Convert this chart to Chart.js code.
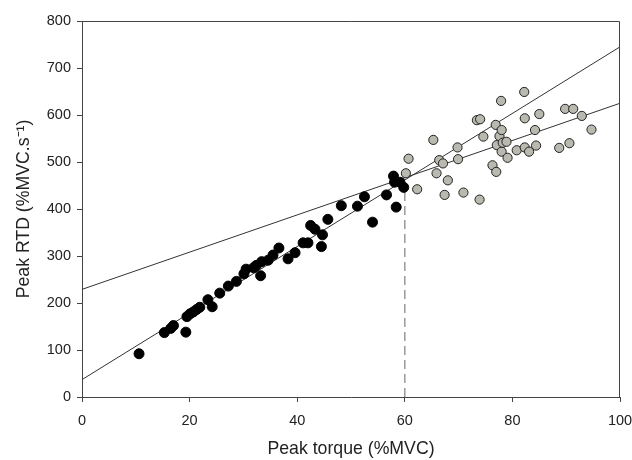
<!DOCTYPE html>
<html lang="en">
<head>
    <meta charset="UTF-8">
    <title>Peak RTD vs Peak torque</title>
    <script src="https://cdn.jsdelivr.net/npm/chart.js"></script>
    <style>
        body { margin: 0; background: #fff; }
        .wrapper { width: 632px; height: 460px; }
    </style>
</head>
<body>
    <div class="wrapper">
        <canvas id="rtdChart"></canvas>
    </div>

    <script>
        // black points (below 60 %MVC)
        const blackX = [10.6, 15.3, 16.5, 17, 19.3, 19.5, 20.1, 20.7, 21.3, 21.9, 23.4, 24.2, 25.6, 27.2, 28.7,
            30.1, 30.5, 31.9, 32.4, 33.2, 33.4, 34.6, 35.5, 36.6, 38.3, 39.6, 41.1, 42, 42.5, 43.3, 44.5, 44.7,
            45.7, 48.2, 51.2, 52.5, 54, 56.6, 57.9, 58.1, 58.4, 59.1, 59.8];
        const blackY = [92, 137, 146, 152, 138, 171, 177, 181, 186, 191, 207, 192, 221, 236, 246,
            262, 272, 275, 280, 258, 288, 291, 302, 317, 294, 307, 328, 328, 365, 357, 320, 345,
            378, 407, 406, 426, 372, 430, 470, 457, 404, 457, 446];

        // grey points (above 60 %MVC)
        const greyX = [60.2, 60.7, 62.3, 65.3, 65.9, 66.4, 67.1, 67.4, 68, 69.8, 69.9, 70.9, 73.4, 74, 73.9,
            74.6, 76.3, 76.9, 77, 77.1, 77.6, 77.9, 78, 78, 78.2, 78.9, 79.1, 80.8, 82.2, 82.3, 82.3, 83.1,
            84.2, 84.4, 85, 88.7, 89.8, 91.3, 90.6, 92.9, 94.7];
        const greyY = [476, 507, 442, 547, 476, 504, 497, 430, 461, 531, 506, 435, 589, 591, 420,
            554, 493, 579, 479, 536, 555, 630, 568, 522, 541, 543, 509, 525, 649, 593, 531, 522,
            568, 535, 602, 530, 613, 613, 540, 598, 569];

        // regression lines and the 60 %MVC marker
        const fitX = [0, 100];
        const fitSteepY = [37, 745];
        const fitFlatY = [229, 625];
        const markerX = [60, 60];
        const markerY = [0, 440];

        const xTicks = [0, 20, 40, 60, 80, 100];
        const yTicks = [0, 100, 200, 300, 400, 500, 600, 700, 800];

        const toPoints = (xs, ys) => xs.map((x, i) => ({ x: x, y: ys[i] }));

        // top and right edges of the box
        const frame = {
            id: 'frame',
            afterDraw(chart) {
                const { ctx, chartArea: a } = chart;
                ctx.save();
                ctx.strokeStyle = '#444';
                ctx.lineWidth = 1;
                ctx.beginPath();
                ctx.moveTo(a.left, a.top + 0.5);
                ctx.lineTo(a.right - 0.5, a.top + 0.5);
                ctx.lineTo(a.right - 0.5, a.bottom);
                ctx.stroke();
                ctx.restore();
            }
        };

        const family = '"Liberation Sans", Arial, sans-serif';
        const tickFont = { family: family, size: 14.5 };
        const titleFont = { family: family, size: 17.7 };

        const ctx = document.getElementById('rtdChart').getContext('2d');
        new Chart(ctx, {
            type: 'scatter',
            data: {
                datasets: [
                    {
                        data: toPoints(blackX, blackY),
                        backgroundColor: '#000',
                        borderColor: '#000',
                        borderWidth: 1,
                        pointRadius: 5,
                        order: 0
                    },
                    {
                        data: toPoints(greyX, greyY),
                        backgroundColor: '#b9b9b0',
                        borderColor: '#222',
                        borderWidth: 1,
                        pointRadius: 4.6,
                        order: 1
                    },
                    {
                        data: toPoints(fitX, fitSteepY),
                        showLine: true,
                        borderColor: '#333',
                        borderWidth: 1,
                        pointRadius: 0,
                        order: 2
                    },
                    {
                        data: toPoints(fitX, fitFlatY),
                        showLine: true,
                        borderColor: '#333',
                        borderWidth: 1,
                        pointRadius: 0,
                        order: 3
                    },
                    {
                        data: toPoints(markerX, markerY),
                        showLine: true,
                        borderColor: '#999',
                        borderWidth: 1.5,
                        borderDash: [9, 5],
                        pointRadius: 0,
                        order: 4
                    }
                ]
            },
            options: {
                responsive: true,
                maintainAspectRatio: false,
                animation: false,
                layout: { padding: { left: 0, top: 21, right: 12, bottom: 0 } },
                scales: {
                    x: {
                        type: 'linear',
                        min: 0,
                        max: 100,
                        afterBuildTicks: scale => { scale.ticks = xTicks.map(v => ({ value: v })); },
                        afterFit: scale => {
                            scale.height = 63;
                            scale.paddingLeft = 0;
                            scale.paddingRight = 0;
                        },
                        grid: { drawOnChartArea: false, color: '#444', tickLength: 5 },
                        border: { color: '#444' },
                        ticks: { color: '#222', font: tickFont, padding: 10, maxRotation: 0 },
                        title: {
                            display: true,
                            text: 'Peak torque (%MVC)',
                            color: '#222',
                            font: titleFont,
                            padding: { top: 0, bottom: 0 }
                        }
                    },
                    y: {
                        type: 'linear',
                        min: 0,
                        max: 800,
                        afterBuildTicks: scale => { scale.ticks = yTicks.map(v => ({ value: v })); },
                        afterFit: scale => {
                            scale.width = 82;
                            scale.paddingTop = 0;
                            scale.paddingBottom = 0;
                        },
                        grid: { drawOnChartArea: false, color: '#444', tickLength: 5 },
                        border: { color: '#444' },
                        ticks: { color: '#222', font: tickFont, padding: 6 },
                        title: {
                            display: true,
                            text: 'Peak RTD (%MVC.s⁻¹)',
                            color: '#222',
                            font: titleFont,
                            padding: { top: 13, bottom: 0 }
                        }
                    }
                },
                plugins: {
                    legend: { display: false },
                    tooltip: { enabled: false }
                }
            },
            plugins: [frame]
        });
    </script>
</body>
</html>
